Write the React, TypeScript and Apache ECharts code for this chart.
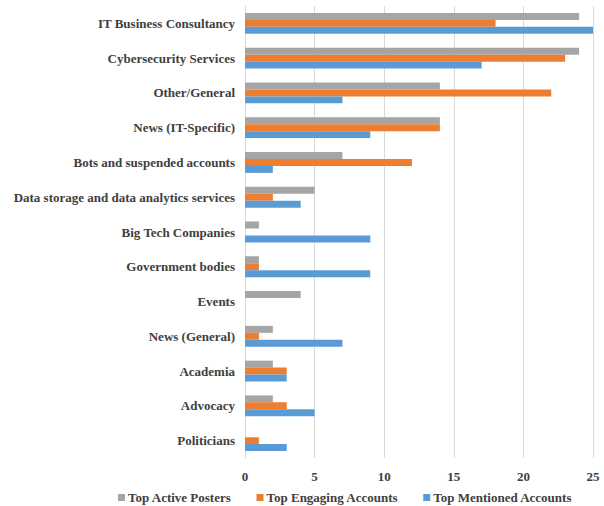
import React, { useEffect, useRef } from "react";
import * as echarts from "echarts";

const categories = [
  "IT Business Consultancy",
  "Cybersecurity Services",
  "Other/General",
  "News (IT-Specific)",
  "Bots and suspended accounts",
  "Data storage and data analytics services",
  "Big Tech Companies",
  "Government bodies",
  "Events",
  "News (General)",
  "Academia",
  "Advocacy",
  "Politicians",
];

const activePosters = [24, 24, 14, 14, 7, 5, 1, 1, 4, 2, 2, 2, 0];
const engagingAccounts = [18, 23, 22, 14, 12, 2, 0, 1, 0, 1, 3, 3, 1];
const mentionedAccounts = [25, 17, 7, 9, 2, 4, 9, 9, 0, 7, 3, 5, 3];

const seriesNames = ["Top Active Posters", "Top Engaging Accounts", "Top Mentioned Accounts"];

export default function App() {
  const ref = useRef<HTMLDivElement>(null);
  useEffect(() => {
    if (!ref.current) return;
    const chart = echarts.init(ref.current, null, { renderer: "svg" });
    const font = "'Liberation Serif', 'Times New Roman', serif";
    chart.setOption({
      animation: false,
      backgroundColor: "#ffffff",
      grid: { left: 245, right: 11, top: 6, bottom: 48, containLabel: false },
      legend: {
        data: seriesNames,
        bottom: 2,
        left: 118,
        width: 486,
        padding: 0,
        itemWidth: 7,
        itemHeight: 7,
        itemGap: 25,
        icon: "rect",
        textStyle: { fontFamily: font, fontWeight: "bold", fontSize: 13, color: "#404040", padding: [0, 0, 0, -2] },
      },
      xAxis: {
        type: "value",
        min: 0,
        max: 25,
        interval: 5,
        axisLine: { show: false },
        axisTick: { show: false },
        splitLine: { lineStyle: { color: "#d9d9d9" } },
        axisLabel: { fontFamily: font, fontWeight: "bold", fontSize: 13, color: "#404040", margin: 12 },
      },
      yAxis: {
        type: "category",
        data: categories,
        inverse: true,
        axisLine: { show: true, lineStyle: { color: "#d9d9d9" } },
        axisTick: { show: false },
        axisLabel: { fontFamily: font, fontWeight: "bold", fontSize: 13, color: "#404040", margin: 10 },
      },
      series: [
        { name: seriesNames[0], type: "bar", data: activePosters, itemStyle: { color: "#A5A5A5" }, barGap: "0%", barCategoryGap: "40%" },
        { name: seriesNames[1], type: "bar", data: engagingAccounts, itemStyle: { color: "#ED7D31" }, barGap: "0%", barCategoryGap: "40%" },
        { name: seriesNames[2], type: "bar", data: mentionedAccounts, itemStyle: { color: "#5B9BD5" }, barGap: "0%", barCategoryGap: "40%" },
      ],
    });
    return () => chart.dispose();
  }, []);
  return <div ref={ref} style={{ position: "fixed", left: 0, top: 0, width: 604, height: 506 }} />;
}
